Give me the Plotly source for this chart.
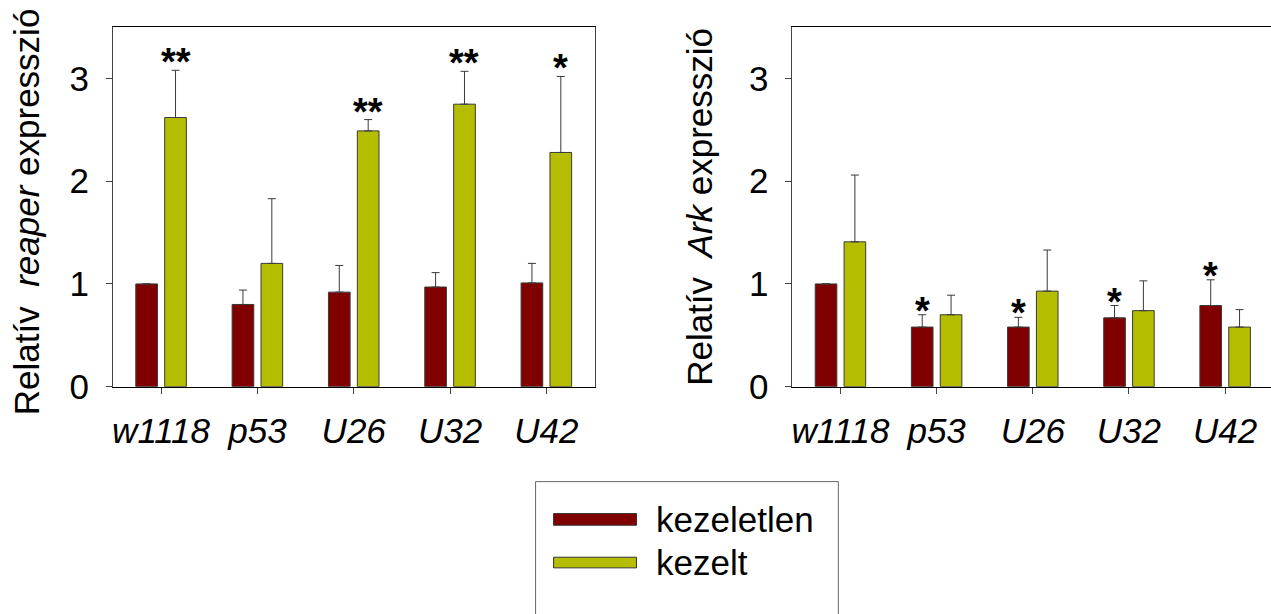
import plotly.graph_objects as go

categories = ["w1118", "p53", "U26", "U32", "U42"]

reaper_untreated = [1.00, 0.80, 0.92, 0.97, 1.01]
reaper_untreated_err = [0.0, 0.14, 0.26, 0.14, 0.19]
reaper_treated = [2.62, 1.20, 2.49, 2.75, 2.28]
reaper_treated_err = [0.46, 0.63, 0.11, 0.32, 0.74]
reaper_stars_untreated = ["", "", "", "", ""]
reaper_stars_treated = ["**", "", "**", "**", "*"]

ark_untreated = [1.00, 0.58, 0.58, 0.67, 0.79]
ark_untreated_err = [0.0, 0.12, 0.095, 0.12, 0.25]
ark_treated = [1.41, 0.70, 0.93, 0.74, 0.58]
ark_treated_err = [0.65, 0.19, 0.40, 0.29, 0.17]
ark_stars_untreated = ["", "*", "*", "*", "*"]
ark_stars_treated = ["", "", "", "", ""]

series_names = ["kezeletlen", "kezelt"]
y_ticks = [0, 1, 2, 3]

RED = "#800000"
GREEN = "#B5BD00"
FONT = "Arial, 'Liberation Sans', sans-serif"
W, H = 1271, 614
BARGAP = 0.4
BARGROUPGAP = 0.25


def px_x(p):
    return p / W


def px_y(p):
    return 1 - p / H


fig = go.Figure()


def add_bars(vals, errs, name, color, xa, ya):
    fig.add_trace(go.Bar(
        x=categories, y=vals, name=name, xaxis=xa, yaxis=ya,
        marker=dict(color=color, line=dict(color="#3a3a3a", width=1)),
        error_y=dict(type="data", symmetric=False, array=errs,
                     arrayminus=[0] * len(errs), color="#3a3a3a",
                     thickness=1, width=4),
        showlegend=False,
    ))


add_bars(reaper_untreated, reaper_untreated_err, series_names[0], RED, "x", "y")
add_bars(reaper_treated, reaper_treated_err, series_names[1], GREEN, "x", "y")
add_bars(ark_untreated, ark_untreated_err, series_names[0], RED, "x2", "y2")
add_bars(ark_treated, ark_treated_err, series_names[1], GREEN, "x2", "y2")

offset = (1 - BARGAP) / 4
annotations = []


def add_stars(stars, vals, errs, shift, xref, yref, yshift):
    for i, s in enumerate(stars):
        if s:
            annotations.append(dict(
                x=i + shift, y=vals[i] + errs[i], xref=xref, yref=yref,
                text=s, showarrow=False, yanchor="bottom", xanchor="center",
                yshift=yshift,
                font=dict(family=FONT, size=38, color="black", weight="bold")))


add_stars(reaper_stars_untreated, reaper_untreated, reaper_untreated_err, -offset, "x", "y", -15)
add_stars(reaper_stars_treated, reaper_treated, reaper_treated_err, offset, "x", "y", -15)
add_stars(ark_stars_untreated, ark_untreated, ark_untreated_err, -offset, "x2", "y2", -19)
add_stars(ark_stars_treated, ark_treated, ark_treated_err, offset, "x2", "y2", -19)

# axis titles
annotations.append(dict(
    x=px_x(25), y=px_y(218), xref="paper", yref="paper", textangle=-90,
    text="Relatív\u00a0\u00a0<i>reaper</i> expresszió", showarrow=False,
    xanchor="center", yanchor="middle", font=dict(family=FONT, size=35, color="black")))
annotations.append(dict(
    x=px_x(699), y=px_y(213), xref="paper", yref="paper", textangle=-90,
    text="Relatív\u00a0\u00a0<i>Ark</i> expresszió", showarrow=False,
    xanchor="center", yanchor="middle", font=dict(family=FONT, size=35, color="black")))

# legend (manual, wide swatches)
shapes = [
    dict(type="rect", xref="paper", yref="paper", x0=px_x(535), x1=px_x(838),
         y0=px_y(650), y1=px_y(497), line=dict(color="#666", width=1), fillcolor="white", layer="below"),
    dict(type="rect", xref="paper", yref="paper", x0=px_x(553), x1=px_x(636),
         y0=px_y(542), y1=px_y(530), line=dict(color="#333", width=1), fillcolor=RED),
    dict(type="rect", xref="paper", yref="paper", x0=px_x(553), x1=px_x(636),
         y0=px_y(586), y1=px_y(575), line=dict(color="#333", width=1), fillcolor=GREEN),
]
for txt, yc in zip(series_names, [536, 580]):
    annotations.append(dict(
        x=px_x(654), y=px_y(yc), xref="paper", yref="paper", text=txt,
        showarrow=False, xanchor="left", yanchor="middle",
        font=dict(family=FONT, size=35, color="black")))

xcommon = dict(type="category", showline=True, linecolor="black", linewidth=1,
               mirror=True, ticks="outside", ticklen=6, tickcolor="#444",
               showgrid=False, zeroline=False, ticklabelstandoff=7,
               tickfont=dict(family=FONT, size=35, color="black", style="italic"))
ycommon = dict(range=[0, 3.5], tickvals=y_ticks, showline=True, linecolor="#444",
               linewidth=1, ticks="outside", ticklen=6, tickcolor="#444",
               showgrid=False, zeroline=False, ticklabelstandoff=10,
               tickfont=dict(family=FONT, size=35, color="black"))

fig.update_layout(
    width=W, height=H, margin=dict(l=0, r=0, t=0, b=0),
    paper_bgcolor="white", plot_bgcolor="white",
    barmode="group", bargap=BARGAP, bargroupgap=BARGROUPGAP,
    showlegend=False,
    xaxis=dict(domain=[px_x(112), px_x(594)], range=[-0.5, 4.5], anchor="y", **xcommon),
    yaxis=dict(domain=[px_y(399), px_y(28)], anchor="x", mirror=True, **ycommon),
    xaxis2=dict(domain=[px_x(792), 1.0], range=[-0.5, 4.477], anchor="y2", **xcommon),
    yaxis2=dict(domain=[px_y(399), px_y(28)], anchor="x2", mirror=False, **ycommon),
    annotations=annotations, shapes=shapes,
)

fig.write_html("out.html")
